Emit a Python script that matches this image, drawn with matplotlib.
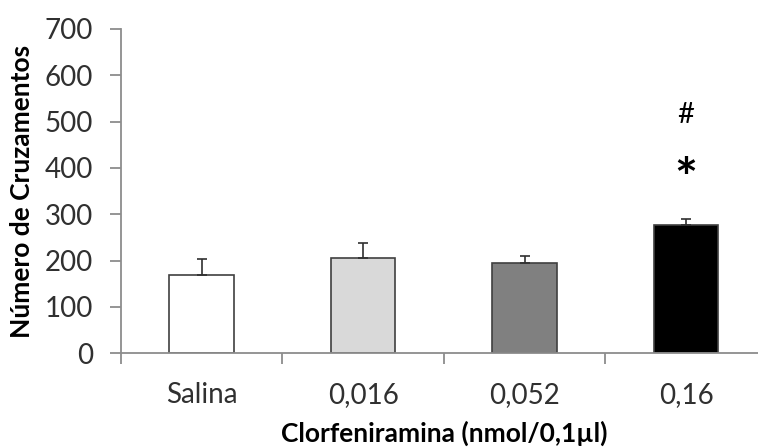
import matplotlib
matplotlib.use('Agg')
import matplotlib.pyplot as plt
import numpy as np

# dados
categorias = ['Salina', '0,016', '0,052', '0,16']
medias = [170, 206, 194, 276]
erros = [34, 33, 15, 14]
cores = ['#FFFFFF', '#D9D9D9', '#808080', '#000000']
yticks = [0, 100, 200, 300, 400, 500, 600, 700]

plt.rcParams['font.family'] = ['Lato', 'DejaVu Sans']

fig = plt.figure(figsize=(7.58, 4.48), dpi=100)
ax = fig.add_axes([0.1596, 0.2114, 0.852, 0.7239])

x = np.arange(len(categorias)) + 0.5
ax.bar(x, medias, width=0.4, color=cores, edgecolor='#404040', linewidth=1.2, zorder=2)
ax.errorbar(x, medias, yerr=[np.zeros(len(erros)), erros], fmt='none',
            ecolor='#303030', elinewidth=1.2, capsize=3.3, capthick=1.2, zorder=3)

# marcadores de significância
ax.text(x[3], 372, '*', ha='center', va='center', fontsize=39, fontweight='bold')
ax.text(x[3], 514, '#', ha='center', va='center', fontsize=21)

ax.set_xlim(0, 4)
ax.set_ylim(0, 700)
ax.set_yticks(yticks)
ax.set_xticks(x)
ax.set_xticklabels(categorias)
ax.set_xticks(np.arange(0, 4), minor=True)

for s in ['top', 'right']:
    ax.spines[s].set_visible(False)
for s in ['left', 'bottom']:
    ax.spines[s].set_color('#8C8C8C')
    ax.spines[s].set_linewidth(1.3)

ax.tick_params(axis='x', which='major', length=0, pad=21, labelsize=20, labelcolor='#303030')
ax.tick_params(axis='x', which='minor', length=8, width=1.3, color='#8C8C8C', direction='out')
ax.tick_params(axis='y', length=8, width=1.3, color='#8C8C8C', direction='out',
               labelsize=20, labelcolor='#303030', pad=12)

ax.set_ylabel('Número de Cruzamentos', fontsize=19, fontweight='bold', labelpad=8)
ax.set_xlabel('Clorfeniramina (nmol/0,1µl)', fontsize=19, fontweight='bold', labelpad=9)

fig.savefig('out.png', dpi=100)
